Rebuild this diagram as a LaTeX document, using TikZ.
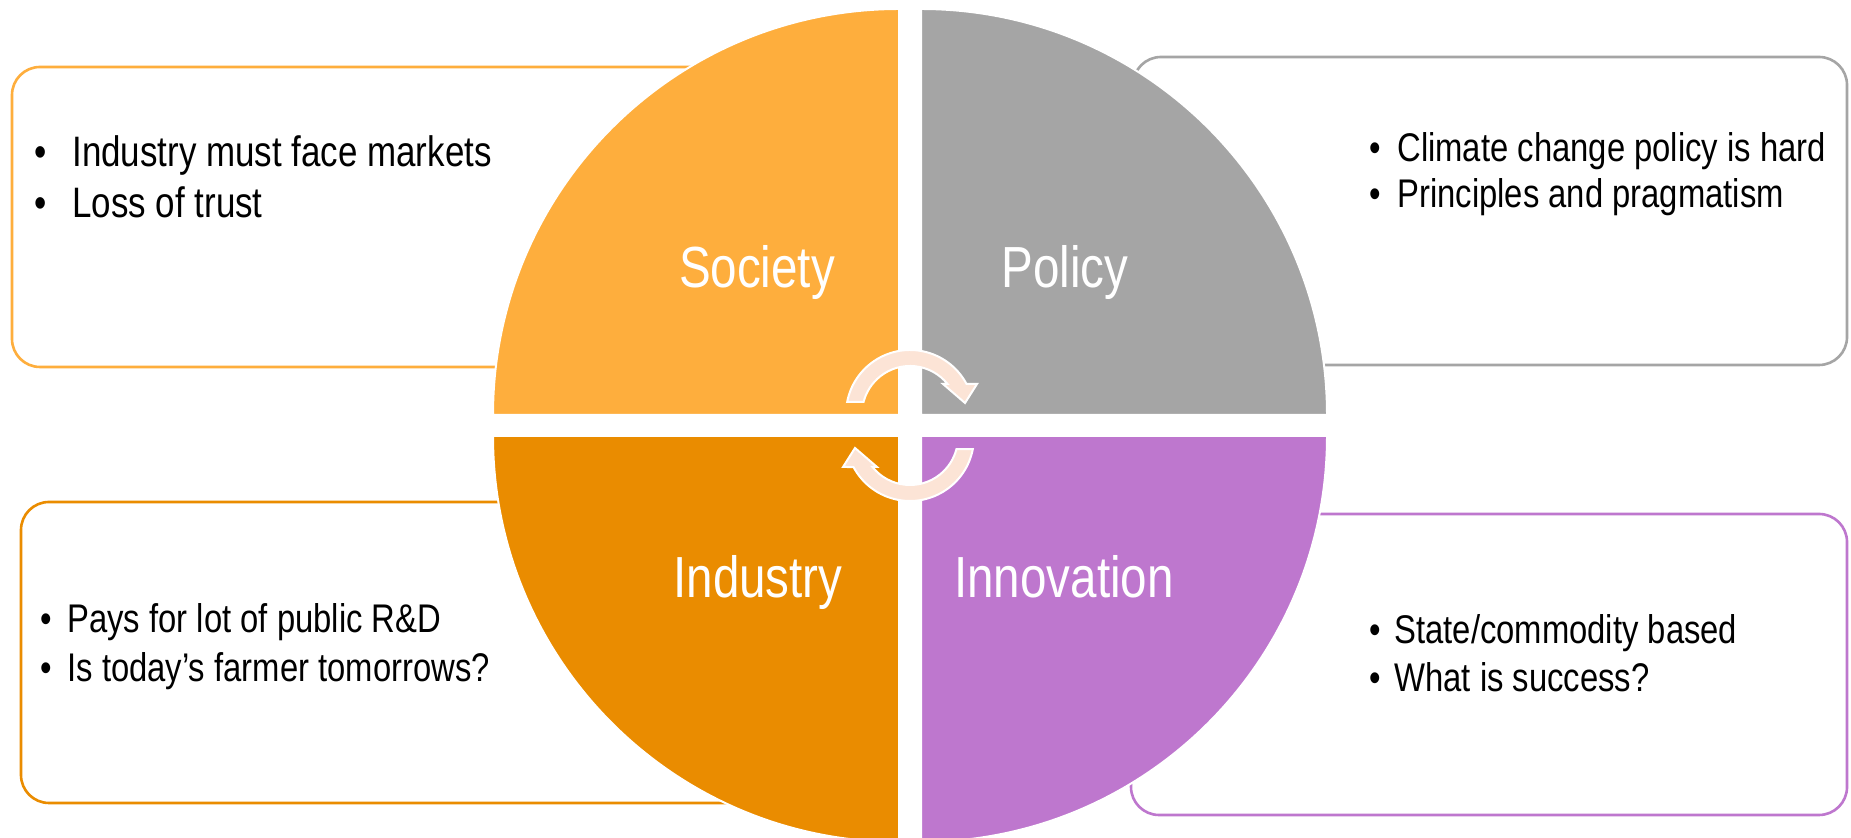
\documentclass[tikz,border=0pt]{standalone}
\usepackage{fontspec}
\setmainfont{Liberation Sans}[FakeStretch=0.82]
\definecolor{soc}{HTML}{FEAE3D}
\definecolor{pol}{HTML}{A5A5A5}
\definecolor{ind}{HTML}{EA8C00}
\definecolor{inn}{HTML}{BE77CE}
\definecolor{peach}{HTML}{FCE4D6}
\tikzset{
  card/.style={draw, line width=1.3pt, rounded corners=14pt, fill=white},
  quad/.style={draw=white, line width=1pt},
  lbl/.style={text=white, font=\fontsize{29}{34}\selectfont, anchor=base, inner sep=0pt},
  txt/.style={font=\fontsize{20}{24}\selectfont, anchor=base west, inner sep=0pt},
  bul/.style={font=\fontsize{20}{24}\selectfont, anchor=base, inner sep=0pt},
  txtbig/.style={txt, font=\fontsize{21.3}{25}\selectfont},
  bulbig/.style={bul, font=\fontsize{21.3}{25}\selectfont},
  cyc/.style={fill=peach, draw=white, line width=1pt, line join=miter}
}
\begin{document}
\begin{tikzpicture}[x=0.5pt,y=0.5pt]
\clip (0,0) rectangle (1851,838);
\fill[white] (0,0) rectangle (1851,838);
% text boxes (behind the circle)
\draw[card, draw=soc] (12,471) rectangle (880,771);
\draw[card, draw=pol] (1133,473) rectangle (1847,781);
\draw[card, draw=ind] (21,35) rectangle (880,336);
\draw[card, draw=inn] (1131,23) rectangle (1847,324);
% quadrants
\filldraw[quad, fill=soc] (899,423) -- (899,829) arc[start angle=90, end angle=180, radius=406] -- cycle;
\filldraw[quad, fill=pol] (921,423) -- (1327,423) arc[start angle=0, end angle=90, radius=406] -- cycle;
\filldraw[quad, fill=ind] (899,402) -- (493,402) arc[start angle=180, end angle=270, radius=406] -- cycle;
\filldraw[quad, fill=inn] (921,402) -- (921,-4) arc[start angle=270, end angle=360, radius=406] -- cycle;
% cycle arrows
\filldraw[cyc] (847.2,436.2) arc[start angle=169, end angle=28, radius=64]
  -- (977,454) -- (965,435) -- (943,454) -- (947.5,454)
  arc[start angle=38.66, end angle=165.5, radius=48] -- cycle;
\begin{scope}[rotate around={180:(910,412.5)}]
\filldraw[cyc] (847.2,436.2) arc[start angle=169, end angle=28, radius=64]
  -- (977,454) -- (965,435) -- (943,454) -- (947.5,454)
  arc[start angle=38.66, end angle=165.5, radius=48] -- cycle;
\end{scope}
% quadrant labels
\node[lbl] (society) at (757,550) {Society};
\node[lbl] (policy) at (1065,550) {Policy};
\node[lbl] (industry) at (758,240) {Industry};
\node[lbl] (innovation) at (1064,240) {Innovation};
% box texts
\node[bulbig] (s1b) at (40.5,671) {•};
\node[txtbig] (s1) at (72,671) {Industry must face markets};
\node[bulbig] (s2b) at (40.5,620) {•};
\node[txtbig] (s2) at (72,620) {Loss of trust};
\node[bul] (p1b) at (1375,676) {•};
\node[txt] (p1) at (1397,676) {Climate change policy is hard};
\node[bul] (p2b) at (1375,630) {•};
\node[txt] (p2) at (1397,630) {Principles and pragmatism};
\node[bul] (i1b) at (46,205) {•};
\node[txt] (i1) at (67,205) {Pays for lot of public R\&D};
\node[bul] (i2b) at (46,156) {•};
\node[txt] (i2) at (67,156) {Is today’s farmer tomorrows?};
\node[bul] (n1b) at (1375,194) {•};
\node[txt] (n1) at (1394,194) {State/commodity based};
\node[bul] (n2b) at (1375,146) {•};
\node[txt] (n2) at (1394,146) {What is success?};
\end{tikzpicture}
\end{document}
